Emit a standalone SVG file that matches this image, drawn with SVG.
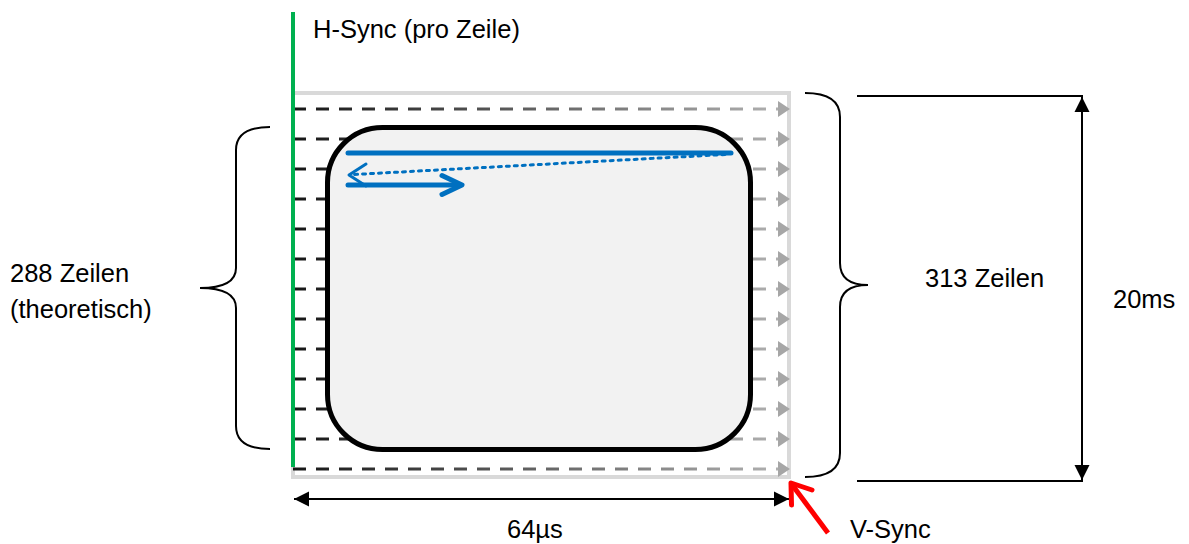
<svg xmlns="http://www.w3.org/2000/svg" width="1189" height="544" viewBox="0 0 1189 544">
  <style>
    .lbl { font-family: "Liberation Sans", Arial, sans-serif; font-size: 25.5px; fill: #000; }
    .scan { fill: none; stroke: url(#scanFade); stroke-width: 3; stroke-dasharray: 13 10; }
    .tri { fill: #a6a6a6; }
    .brace { fill: none; stroke: #000; stroke-width: 2; }
    .dim { fill: none; stroke: #000; stroke-width: 2; }
    .blue { fill: none; stroke: #0070c0; stroke-linecap: round; stroke-linejoin: round; }
  </style>
  <defs>
    <linearGradient id="scanFade" gradientUnits="userSpaceOnUse" x1="293" y1="0" x2="780" y2="0">
      <stop offset="0" stop-color="#161616"/>
      <stop offset="1" stop-color="#b0b0b0"/>
    </linearGradient>
    <!-- gray end triangle of a scan line -->
    <path id="scanTip" d="M-1,-8 L11,0 L-1,8 Z"/>
    <marker id="blackTri" markerUnits="userSpaceOnUse" markerWidth="16" markerHeight="16" refX="15" refY="8" orient="auto-start-reverse">
      <path d="M0,0.5 L15,8 L0,15.5 Z" fill="#000"/>
    </marker>
  </defs>

  <!-- raster frame -->
  <g id="frame">
    <rect x="293" y="93" width="496" height="384" fill="none" stroke="#d9d9d9" stroke-width="4"/>
  </g>

  <!-- scan lines -->
  <g id="scanlines">
    <path class="scan" d="M293,109 H778"/>
    <path class="scan" d="M293,139 H778"/>
    <path class="scan" d="M293,169 H778"/>
    <path class="scan" d="M293,199 H778"/>
    <path class="scan" d="M293,229 H778"/>
    <path class="scan" d="M293,259 H778"/>
    <path class="scan" d="M293,289 H778"/>
    <path class="scan" d="M293,319 H778"/>
    <path class="scan" d="M293,349 H778"/>
    <path class="scan" d="M293,379 H778"/>
    <path class="scan" d="M293,409 H778"/>
    <path class="scan" d="M293,439 H778"/>
    <path class="scan" d="M293,469 H778"/>
    <g class="tri">
      <use href="#scanTip" x="779" y="109"/>
      <use href="#scanTip" x="779" y="139"/>
      <use href="#scanTip" x="779" y="169"/>
      <use href="#scanTip" x="779" y="199"/>
      <use href="#scanTip" x="779" y="229"/>
      <use href="#scanTip" x="779" y="259"/>
      <use href="#scanTip" x="779" y="289"/>
      <use href="#scanTip" x="779" y="319"/>
      <use href="#scanTip" x="779" y="349"/>
      <use href="#scanTip" x="779" y="379"/>
      <use href="#scanTip" x="779" y="409"/>
      <use href="#scanTip" x="779" y="439"/>
      <use href="#scanTip" x="779" y="469"/>
    </g>
  </g>

  <!-- H-Sync line -->
  <g id="hsync">
    <line x1="293" y1="12" x2="293" y2="467" stroke="#00b050" stroke-width="4"/>
    <text class="lbl" x="313" y="37.5">H-Sync (pro Zeile)</text>
  </g>

  <!-- visible screen area -->
  <g id="screen">
    <rect x="327.5" y="127.5" width="423" height="322" rx="55" ry="55" fill="#f2f2f2" stroke="#000" stroke-width="5"/>
  </g>

  <!-- beam path -->
  <g id="beam">
    <line class="blue" x1="348" y1="153" x2="731" y2="153" stroke-width="5" stroke-linecap="butt"/>
    <line class="blue" x1="725" y1="154.5" x2="354" y2="174.5" stroke-width="3" stroke-linecap="butt" stroke-dasharray="3 5"/>
    <path class="blue" d="M366,164 L349,175 L366,186" stroke-width="3"/>
    <line class="blue" x1="348" y1="185" x2="460" y2="185" stroke-width="5" stroke-linecap="butt"/>
    <path class="blue" d="M442,175.5 L462,185 L442,194.5" stroke-width="5"/>
  </g>

  <!-- connectors: braces and dimension arrows -->
  <g id="connectors">
    <path class="brace" d="M270,127 C248,127 236,134 236,150 L236,268 C236,281 224,288 200,288 C224,288 236,295 236,308 L236,426 C236,442 248,449 270,449"/>
    <path class="brace" d="M805,93 C828,93 840,101 840,117 L840,263 C840,278 850,285 868,285 C850,285 840,292 840,307 L840,453 C840,469 828,477 805,477"/>
    <line class="dim" x1="857" y1="96" x2="1083" y2="96"/>
    <line class="dim" x1="857" y1="481" x2="1083" y2="481"/>
    <line class="dim" x1="1082" y1="97" x2="1082" y2="480" stroke-width="2.5" marker-start="url(#blackTri)" marker-end="url(#blackTri)"/>
    <line class="dim" x1="294" y1="499" x2="789" y2="499" marker-start="url(#blackTri)" marker-end="url(#blackTri)"/>
    <line x1="828" y1="533" x2="793" y2="486" stroke="#ff0000" stroke-width="5"/>
    <path d="M791.5,505 L791,483 L812,490" fill="none" stroke="#ff0000" stroke-width="5" stroke-linejoin="round" stroke-linecap="round"/>
  </g>

  <!-- labels -->
  <g id="labels">
    <text class="lbl" x="10" y="282">288 Zeilen</text>
    <text class="lbl" x="10" y="318">(theoretisch)</text>
    <text class="lbl" x="925" y="287">313 Zeilen</text>
    <text class="lbl" x="1113" y="308">20ms</text>
    <text class="lbl" x="507" y="538">64µs</text>
    <text class="lbl" x="850" y="538">V-Sync</text>
  </g>
</svg>
